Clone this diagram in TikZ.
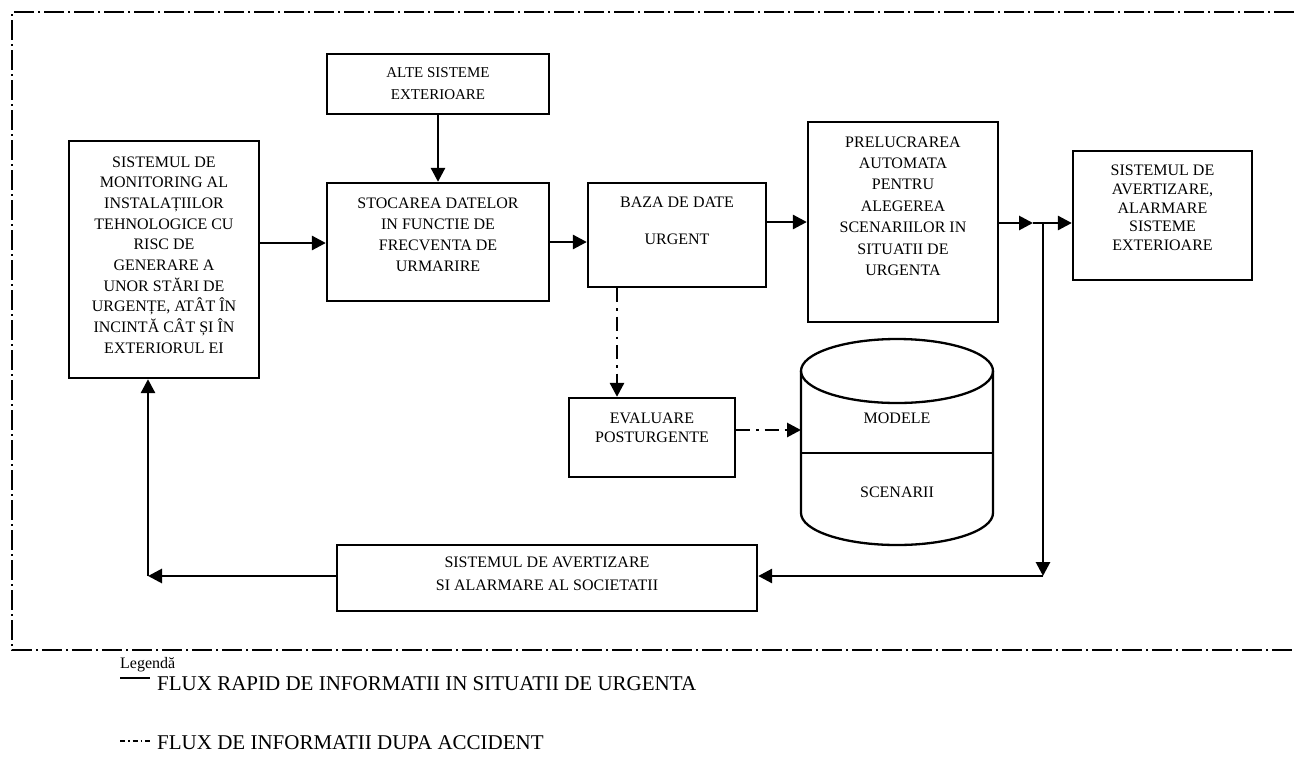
\documentclass[tikz,border=0pt]{standalone}
\usepackage{fontspec}
\setmainfont{Liberation Serif}
\usetikzlibrary{arrows.meta}
\newcommand\fsz[2]{\fontsize{#1}{#2}\selectfont}
\begin{document}
\begin{tikzpicture}[x=1pt,y=-1pt,
  box/.style={draw,line width=2.3pt,inner sep=0pt},
  txt/.style={align=center,inner sep=0pt},
  arr/.style={line width=2.8pt,-{Triangle[length=14pt,width=14pt]}},
  darr/.style={arr,dash pattern=on 14pt off 6pt on 2.5pt off 6pt},
  border/.style={line width=1.6pt,dash pattern=on 20pt off 4pt on 2pt off 4pt}]
\useasboundingbox (0,0) rectangle (1294,761);
% outer frame
\draw[border] (1294,12) -- (12,12) -- (12,650) -- (1294,650);
% boxes
\node[box,minimum width=190pt,minimum height=237pt] (b1) at (164,259.5) {};
\node[txt,font=\fsz{16}{20.7}] (b1t) at (164,255) {SISTEMUL DE\\MONITORING AL\\INSTALAȚIILOR\\TEHNOLOGICE CU\\RISC DE\\GENERARE A\\UNOR STĂRI DE\\URGENȚE, ATÂT ÎN\\INCINTĂ CÂT ȘI ÎN\\EXTERIORUL EI};
\node[box,minimum width=222pt,minimum height=60pt] (alte) at (438,84) {};
\node[txt,font=\fsz{15}{22}] (altet) at (438,84) {ALTE SISTEME\\EXTERIOARE};
\node[box,minimum width=222pt,minimum height=118pt] (sto) at (438,242) {};
\node[txt,font=\fsz{16}{21}] (stot) at (438,234.5) {STOCAREA DATELOR\\IN FUNCTIE DE\\FRECVENTA DE\\URMARIRE};
\node[box,minimum width=178pt,minimum height=104pt] (baza) at (677,235) {};
\node[txt,font=\fsz{16}{37}] (bazat) at (677,220.5) {BAZA DE DATE\\URGENT};
\node[box,minimum width=190pt,minimum height=200pt] (pre) at (903,222) {};
\node[txt,font=\fsz{16}{21.4}] (pret) at (903,206) {PRELUCRAREA\\AUTOMATA\\PENTRU\\ALEGEREA\\SCENARIILOR IN\\SITUATII DE\\URGENTA};
\node[box,minimum width=179pt,minimum height=129pt] (av) at (1162.5,215.5) {};
\node[txt,font=\fsz{16}{18.7}] (avt) at (1162.5,208) {SISTEMUL DE\\AVERTIZARE,\\ALARMARE\\SISTEME\\EXTERIOARE};
\node[box,minimum width=166pt,minimum height=79pt] (ev) at (652,437.5) {};
\node[txt,font=\fsz{16}{19}] (evt) at (652,427.5) {EVALUARE\\POSTURGENTE};
\node[box,minimum width=420pt,minimum height=66pt] (bot) at (547,578) {};
\node[txt,font=\fsz{16}{23}] (bott) at (547,573.5) {SISTEMUL DE AVERTIZARE\\SI ALARMARE AL SOCIETATII};
% cylinder
\draw[line width=2.3pt] (801,371) -- (801,513) arc[start angle=180,end angle=0,x radius=96,y radius=32] -- (993,371);
\draw[line width=2.3pt] (897,371) ellipse[x radius=96,y radius=32];
\draw[line width=2.3pt] (801,453) -- (993,453);
\node[txt,font=\fsz{16}{19}] (mod) at (897,418) {MODELE};
\node[txt,font=\fsz{16}{19}] (scn) at (897,492) {SCENARII};
\coordinate (cyl) at (801,430);
% junction coordinates
\coordinate (j1) at (1033,223);
\coordinate (j2) at (1043,223);
\coordinate (j3) at (1043,576);
\coordinate (r1) at (148,576);
% solid connectors
\draw[arr] (b1.east |- 0,243) -- (sto.west |- 0,243);
\draw[arr] (alte) -- (sto);
\draw[arr] (sto.east) -- (baza.west |- sto.east);
\draw[arr] (baza.east |- pre.west) -- (pre.west);
\draw[arr] (pre.east |- j1) -- (j1);
\draw[arr] (j1) -- (av.west |- j1);
\draw[arr] (j2) -- (j3);
\draw[arr] (j3) -- (bot.east |- j3);
\draw[arr] (bot.west |- r1) -- (r1);
\draw[arr] (r1) -- (b1.south -| r1);
% dash-dot connectors
\draw[darr] (baza.south -| 617,0) -- (ev.north -| 617,0);
\draw[darr] (ev.east |- cyl) -- (cyl);
% legend
\node[anchor=base west,inner sep=0pt,font=\fsz{16}{19}] (leg) at (120,668) {Legendă};
\coordinate (l1a) at (120,678);
\coordinate (l1b) at (150,678);
\draw[line width=1.5pt] (l1a) -- (l1b);
\node[anchor=base west,inner sep=0pt,font=\fsz{21}{24}] (leg1) at (157,690) {FLUX RAPID DE INFORMATII IN SITUATII DE URGENTA};
\coordinate (l2a) at (120,741);
\coordinate (l2b) at (152,741);
\draw[line width=1.5pt,dash pattern=on 5pt off 3pt on 1.5pt off 3pt] (l2a) -- (l2b);
\node[anchor=base west,inner sep=0pt,font=\fsz{21}{24}] (leg2) at (157,749) {FLUX DE INFORMATII DUPA ACCIDENT};
\end{tikzpicture}
\end{document}
